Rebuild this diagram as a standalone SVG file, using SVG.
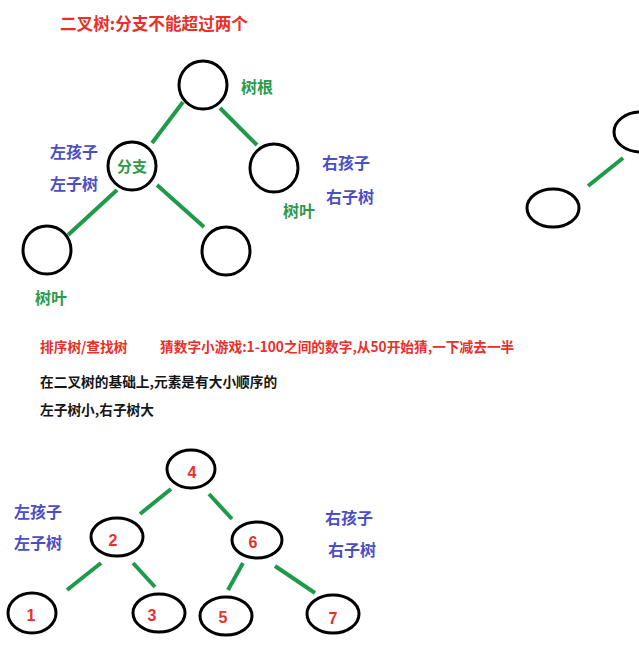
<svg xmlns="http://www.w3.org/2000/svg" width="639" height="654" viewBox="0 0 639 654">
<style>
text{font-family:"Noto Sans CJK SC","Liberation Sans",sans-serif;font-weight:700}
.red{fill:#e8302a}
.blue{fill:#4b4fc4}
.green{fill:#2f9a4c}
.blk{fill:#151515}
.t16{font-size:16px}
.t14{font-size:13.7px}
.node{fill:none;stroke:#000;stroke-width:3}
.num{font-family:"Liberation Sans",Arial,sans-serif;font-size:16px;fill:#e8302a;text-anchor:middle}
.edge{stroke:#1f9a4a;stroke-width:4;stroke-linecap:butt}
</style>
<rect width="639" height="654" fill="#fff"/>
<text class="red" x="60" y="30" font-size="16.6">二叉树:分支不能超过两个</text>

<g id="connectors">
<line class="edge" x1="183" y1="102" x2="152" y2="143"/>
<line class="edge" x1="220" y1="108" x2="257" y2="145"/>
<line class="edge" x1="117" y1="190" x2="68" y2="235"/>
<line class="edge" x1="157" y1="185" x2="204" y2="227"/>
<line class="edge" x1="623" y1="158" x2="588" y2="186"/>
<line class="edge" x1="171" y1="489" x2="140" y2="514"/>
<line class="edge" x1="209" y1="494" x2="232" y2="519"/>
<line class="edge" x1="101" y1="563" x2="67" y2="590"/>
<line class="edge" x1="133" y1="563" x2="155" y2="587"/>
<line class="edge" x1="243" y1="563" x2="228" y2="590"/>
<line class="edge" x1="275" y1="566" x2="315" y2="593"/>
</g>

<g id="root"><circle class="node" cx="203" cy="85" r="24"/></g>
<g id="branch"><circle class="node" cx="132" cy="166" r="24"/><text class="green" x="117" y="172" font-size="15">分支</text></g>
<g id="right-child"><circle class="node" cx="274" cy="168" r="24"/></g>
<g id="left-leaf"><circle class="node" cx="47" cy="250" r="24"/></g>
<g id="mid-leaf"><circle class="node" cx="226" cy="251" r="24"/></g>
<g id="partial-top"><ellipse class="node" cx="641" cy="132" rx="27" ry="20"/></g>
<g id="partial-bottom"><ellipse class="node" cx="553" cy="208" rx="26" ry="19"/></g>

<text class="green t16" x="241" y="93">树根</text>
<text class="blue t16" x="50" y="158">左孩子</text>
<text class="blue t16" x="50" y="190">左子树</text>
<text class="blue t16" x="322" y="169">右孩子</text>
<text class="blue t16" x="326" y="203">右子树</text>
<text class="green t16" x="283" y="217">树叶</text>
<text class="green t16" x="35" y="304">树叶</text>

<text class="red t14" x="40" y="352">排序树/查找树</text>
<text class="red t14" x="160" y="352">猜数字小游戏:1-100之间的数字,从50开始猜,一下减去一半</text>
<text class="blk t14" x="40" y="387">在二叉树的基础上,元素是有大小顺序的</text>
<text class="blk t14" x="40" y="415">左子树小,右子树大</text>

<g id="n4"><ellipse class="node" cx="191" cy="469" rx="24" ry="19"/><text class="num" x="192" y="478">4</text></g>
<g id="n2"><ellipse class="node" cx="117" cy="537" rx="26" ry="19"/><text class="num" x="113" y="546">2</text></g>
<g id="n6"><ellipse class="node" cx="257" cy="540" rx="25" ry="18"/><text class="num" x="253" y="548">6</text></g>
<g id="n1"><ellipse class="node" cx="32" cy="613" rx="24" ry="20"/><text class="num" x="31" y="621">1</text></g>
<g id="n3"><ellipse class="node" cx="159" cy="613" rx="26" ry="19"/><text class="num" x="152" y="621">3</text></g>
<g id="n5"><ellipse class="node" cx="226" cy="616" rx="26" ry="19"/><text class="num" x="223" y="623">5</text></g>
<g id="n7"><ellipse class="node" cx="333" cy="614" rx="26" ry="19"/><text class="num" x="333" y="624">7</text></g>

<text class="blue t16" x="14" y="518">左孩子</text>
<text class="blue t16" x="14" y="549">左子树</text>
<text class="blue t16" x="325" y="524">右孩子</text>
<text class="blue t16" x="328" y="556">右子树</text>
</svg>
